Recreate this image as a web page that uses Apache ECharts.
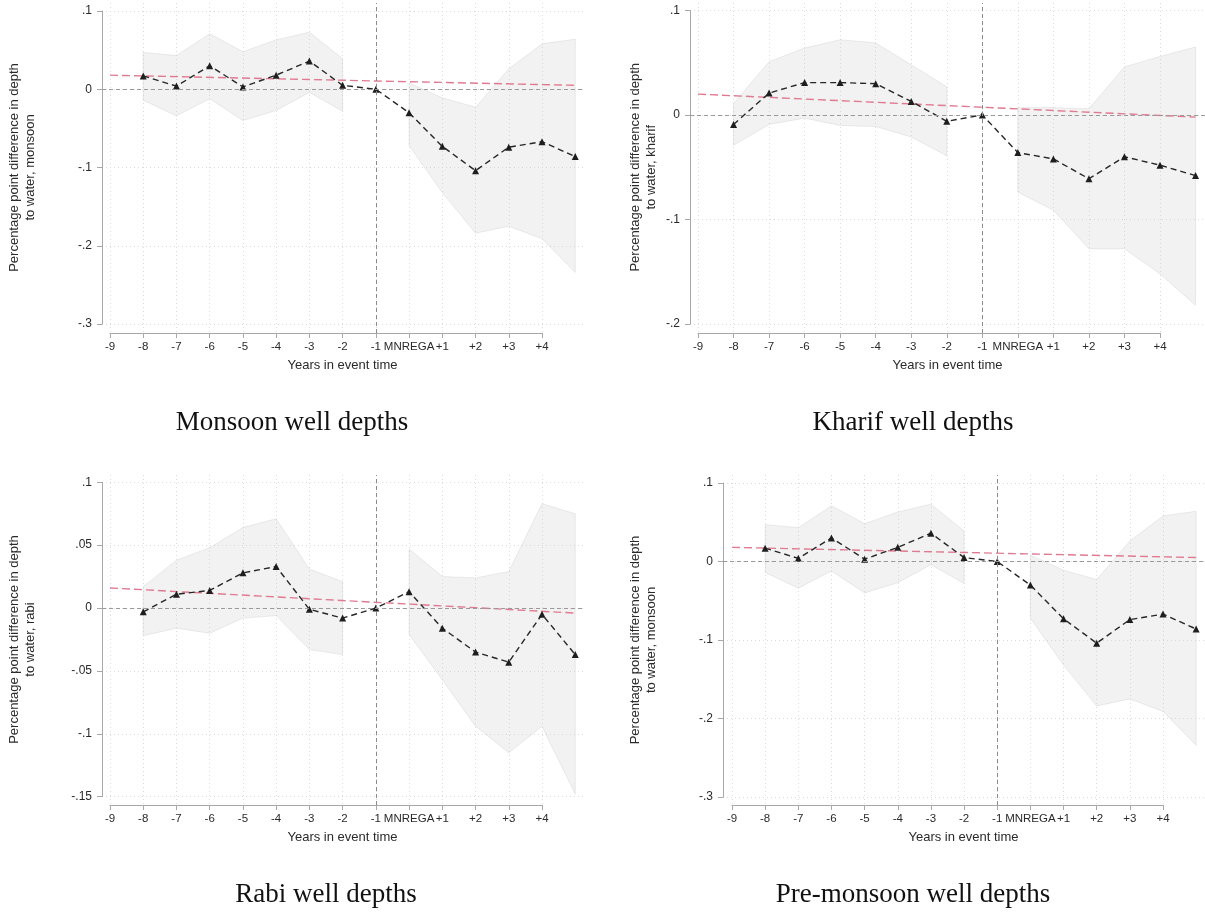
<!DOCTYPE html>
<html>
<head>
<meta charset="utf-8">
<title>Well depths around MNREGA</title>
<script src="https://cdn.jsdelivr.net/npm/echarts@6.0.0/dist/echarts.min.js"></script>
<style>
  html, body { margin: 0; padding: 0; background: #ffffff; }
  #chart { width: 1205px; height: 913px; }
</style>
</head>
<body>
<div id="chart"></div>
<script>
// ---- Event-time axis ----------------------------------------------------
const eventTime = [-8, -7, -6, -5, -4, -3, -2, -1, 0, 1, 2, 3, 4, 5];
const xTickValues = [-9, -8, -7, -6, -5, -4, -3, -2, -1, 0, 1, 2, 3, 4];
const xTickLabels = ['-9', '-8', '-7', '-6', '-5', '-4', '-3', '-2', '-1', 'MNREGA', '+1', '+2', '+3', '+4'];
const trendX = [-9, 5];

// ---- Monsoon well depths ------------------------------------------------
const monsoonCoef  = [0.017, 0.004, 0.030, 0.003, 0.018, 0.036, 0.005, 0, -0.030, -0.073, -0.104, -0.074, -0.067, -0.086];
const monsoonUpper = [0.047, 0.043, 0.071, 0.048, 0.063, 0.073, 0.039, null, 0.008, -0.011, -0.023, 0.026, 0.058, 0.064];
const monsoonLower = [-0.014, -0.034, -0.012, -0.040, -0.027, -0.004, -0.028, null, -0.072, -0.132, -0.184, -0.175, -0.191, -0.234];
const monsoonTrend = [0.018, 0.005];
const monsoonYTicks  = [0.1, 0, -0.1, -0.2, -0.3];
const monsoonYLabels = ['.1', '0', '-.1', '-.2', '-.3'];

// ---- Kharif well depths -------------------------------------------------
const kharifCoef  = [-0.009, 0.021, 0.031, 0.031, 0.030, 0.013, -0.006, 0, -0.036, -0.042, -0.061, -0.040, -0.048, -0.058];
const kharifUpper = [0.011, 0.051, 0.064, 0.072, 0.069, 0.048, 0.027, null, 0.007, 0.007, 0.006, 0.046, 0.056, 0.065];
const kharifLower = [-0.029, -0.009, -0.003, -0.010, -0.011, -0.021, -0.039, null, -0.074, -0.091, -0.128, -0.128, -0.152, -0.182];
const kharifTrend = [0.020, -0.002];
const kharifYTicks  = [0.1, 0, -0.1, -0.2];
const kharifYLabels = ['.1', '0', '-.1', '-.2'];

// ---- Rabi well depths ---------------------------------------------------
const rabiCoef  = [-0.003, 0.011, 0.014, 0.028, 0.033, -0.001, -0.008, 0, 0.013, -0.016, -0.035, -0.043, -0.005, -0.037];
const rabiUpper = [0.017, 0.038, 0.048, 0.064, 0.071, 0.031, 0.021, null, 0.047, 0.025, 0.024, 0.029, 0.083, 0.075];
const rabiLower = [-0.022, -0.016, -0.020, -0.008, -0.006, -0.033, -0.037, null, -0.021, -0.057, -0.094, -0.115, -0.094, -0.148];
const rabiTrend = [0.016, -0.004];
const rabiYTicks  = [0.1, 0.05, 0, -0.05, -0.1, -0.15];
const rabiYLabels = ['.1', '.05', '0', '-.05', '-.1', '-.15'];

// ---- Pre-monsoon well depths --------------------------------------------
const preMonsoonCoef  = [0.017, 0.004, 0.030, 0.003, 0.018, 0.036, 0.005, 0, -0.030, -0.073, -0.104, -0.074, -0.067, -0.086];
const preMonsoonUpper = [0.047, 0.043, 0.071, 0.048, 0.063, 0.073, 0.039, null, 0.008, -0.011, -0.023, 0.026, 0.058, 0.064];
const preMonsoonLower = [-0.014, -0.034, -0.012, -0.040, -0.027, -0.004, -0.028, null, -0.072, -0.132, -0.184, -0.175, -0.191, -0.234];
const preMonsoonTrend = [0.018, 0.005];
const preMonsoonYTicks  = [0.1, 0, -0.1, -0.2, -0.3];
const preMonsoonYLabels = ['.1', '0', '-.1', '-.2', '-.3'];

// ---- Panel layout (pixels) ----------------------------------------------
// x0: tick -9, x4: tick +4, xr: right edge of plot region,
// yAxisX: y axis line, top: top of plot region,
// yTop / yBot: top and bottom y ticks, axisY: x axis line,
// titleX: centre of the two-line y axis title.
const panels = [
  { coef: monsoonCoef, upper: monsoonUpper, lower: monsoonLower, trend: monsoonTrend,
    yTicks: monsoonYTicks, yLabels: monsoonYLabels, yInterval: 0.1,
    ytitle: 'Percentage point difference in depth\nto water, monsoon',
    caption: 'Monsoon well depths', capX: 292, capY: 423,
    box: { x0: 110, x4: 542, xr: 583, yAxisX: 102, top: 3, yTop: 11, yBot: 324, axisY: 333, titleX: 22 } },
  { coef: kharifCoef, upper: kharifUpper, lower: kharifLower, trend: kharifTrend,
    yTicks: kharifYTicks, yLabels: kharifYLabels, yInterval: 0.1,
    ytitle: 'Percentage point difference in depth\nto water, kharif',
    caption: 'Kharif well depths', capX: 913, capY: 423,
    box: { x0: 698, x4: 1160, xr: 1205, yAxisX: 690, top: 3, yTop: 10.5, yBot: 324, axisY: 333, titleX: 643 } },
  { coef: rabiCoef, upper: rabiUpper, lower: rabiLower, trend: rabiTrend,
    yTicks: rabiYTicks, yLabels: rabiYLabels, yInterval: 0.05,
    ytitle: 'Percentage point difference in depth\nto water, rabi',
    caption: 'Rabi well depths', capX: 326, capY: 895,
    box: { x0: 110, x4: 542, xr: 583, yAxisX: 102, top: 475, yTop: 482.3, yBot: 796.7, axisY: 805, titleX: 22 } },
  { coef: preMonsoonCoef, upper: preMonsoonUpper, lower: preMonsoonLower, trend: preMonsoonTrend,
    yTicks: preMonsoonYTicks, yLabels: preMonsoonYLabels, yInterval: 0.1,
    ytitle: 'Percentage point difference in depth\nto water, monsoon',
    caption: 'Pre-monsoon well depths', capX: 913, capY: 895,
    box: { x0: 732, x4: 1163, xr: 1204, yAxisX: 723, top: 475, yTop: 483, yBot: 797, axisY: 805, titleX: 643 } }
];

// ---- Styles -------------------------------------------------------------
const AXIS_GRAY = '#a8a8a8';
const GRID_GRAY = '#dcdcdc';
const TEXT_COLOR = '#2a2a2a';
const SANS = '"Liberation Sans", Arial, sans-serif';

const grids = [], xAxes = [], yAxes = [], series = [], graphics = [];

function labelFor(values, labels, v) {
  for (let i = 0; i < values.length; i++) {
    if (Math.abs(values[i] - v) < 1e-9) return labels[i];
  }
  return '';
}

panels.forEach((p, k) => {
  const b = p.box;
  const ppu = (b.x4 - b.x0) / 13;  // pixels per event-time year
  const yMin = Math.min.apply(null, p.yTicks);
  const yMax = Math.max.apply(null, p.yTicks);

  // Data grid: y axis, horizontal grid lines and all marks
  const gData = grids.length;
  grids.push({ left: b.yAxisX, top: b.yTop, width: b.xr - b.yAxisX, height: b.yBot - b.yTop, containLabel: false });
  xAxes.push({
    gridIndex: gData, type: 'value',
    min: -9 - (b.x0 - b.yAxisX) / ppu, max: -9 + (b.xr - b.x0) / ppu,
    axisLine: { show: false, onZero: false }, axisTick: { show: false }, axisLabel: { show: false }, splitLine: { show: false },
    name: 'Years in event time', nameLocation: 'middle', nameGap: b.axisY - b.yBot + 26,
    nameTextStyle: { fontFamily: SANS, fontSize: 13, color: TEXT_COLOR }
  });
  yAxes.push({
    gridIndex: gData, type: 'value', min: yMin, max: yMax, interval: p.yInterval, position: 'left',
    axisLine: { show: true, onZero: false, lineStyle: { color: AXIS_GRAY, width: 1 } },
    axisTick: { show: true, length: 5, lineStyle: { color: AXIS_GRAY } },
    axisLabel: { margin: 10, fontFamily: SANS, fontSize: 12, color: TEXT_COLOR,
      formatter: v => labelFor(p.yTicks, p.yLabels, v) },
    splitLine: { show: true, lineStyle: { color: GRID_GRAY, type: [1, 3], width: 1 } },
    name: p.ytitle, nameLocation: 'middle', nameRotate: 90, nameGap: b.yAxisX - b.titleX - 16,
    nameTextStyle: { fontFamily: SANS, fontSize: 13, lineHeight: 16, color: TEXT_COLOR, align: 'center' }
  });

  // Event-time grid: x axis, vertical grid lines, treatment marker
  const gX = grids.length;
  grids.push({ left: b.x0, top: b.top, width: b.x4 - b.x0, height: b.axisY - b.top, containLabel: false });
  xAxes.push({
    gridIndex: gX, type: 'value', min: -9, max: 4, interval: 1, position: 'bottom',
    axisLine: { show: true, onZero: false, lineStyle: { color: AXIS_GRAY, width: 1 } },
    axisTick: { show: true, length: 5, lineStyle: { color: AXIS_GRAY } },
    axisLabel: { margin: 8, fontFamily: SANS, fontSize: 11.5, color: TEXT_COLOR,
      formatter: v => labelFor(xTickValues, xTickLabels, v) },
    splitLine: { show: true, lineStyle: { color: GRID_GRAY, type: [1, 3], width: 1 } }
  });
  yAxes.push({ gridIndex: gX, type: 'value', min: 0, max: 1, show: false, splitLine: { show: false } });

  const xiData = xAxes.length - 2, yiData = yAxes.length - 2;
  const xiX = xAxes.length - 1, yiX = yAxes.length - 1;

  // Vertical dashed line at t = -1
  series.push({
    type: 'line', xAxisIndex: xiX, yAxisIndex: yiX, data: [], silent: true, z: 2,
    markLine: { silent: true, symbol: 'none', animation: false, label: { show: false },
      lineStyle: { color: '#8a8a8a', type: [4, 3], width: 1 },
      data: [{ xAxis: -1 }] }
  });

  // Confidence band, split where the reference year has no interval
  const segs = []; let cur = [];
  eventTime.forEach((x, i) => {
    if (p.upper[i] == null || p.lower[i] == null) { if (cur.length) segs.push(cur); cur = []; }
    else cur.push(i);
  });
  if (cur.length) segs.push(cur);
  series.push({
    type: 'custom', xAxisIndex: xiData, yAxisIndex: yiData, silent: true, z: 1, animation: false,
    data: segs.map(s => [eventTime[s[0]], p.upper[s[0]]]),
    renderItem: (params, api) => {
      const s = segs[params.dataIndex];
      const top = s.map(i => api.coord([eventTime[i], p.upper[i]]));
      const bot = s.slice().reverse().map(i => api.coord([eventTime[i], p.lower[i]]));
      return { type: 'polygon', shape: { points: top.concat(bot) },
        style: { fill: 'rgba(190,190,190,0.2)', stroke: 'rgba(200,200,200,0.35)', lineWidth: 1 } };
    }
  });

  // Linear pre-trend (red dashed)
  series.push({
    type: 'line', xAxisIndex: xiData, yAxisIndex: yiData, silent: true, z: 3, animation: false,
    data: trendX.map((x, i) => [x, p.trend[i]]),
    symbol: 'none', lineStyle: { color: '#e07a90', width: 1.4, type: [8, 4] }
  });

  // Point estimates with zero reference line
  series.push({
    type: 'line', xAxisIndex: xiData, yAxisIndex: yiData, silent: true, z: 4, animation: false,
    data: eventTime.map((x, i) => [x, p.coef[i]]),
    symbol: 'triangle', symbolSize: 7,
    itemStyle: { color: '#1e1e1e' },
    lineStyle: { color: '#262626', width: 1.4, type: [6, 4] },
    markLine: { silent: true, symbol: 'none', animation: false, label: { show: false },
      lineStyle: { color: '#9a9a9a', type: [4, 3], width: 1.2 },
      data: [{ yAxis: 0 }] }
  });

  graphics.push({
    type: 'text', x: p.capX, y: p.capY, silent: true,
    style: { text: p.caption, fill: '#111', font: '27px "Liberation Serif", "DejaVu Serif", serif',
      textAlign: 'center', textVerticalAlign: 'middle' }
  });
});

const chart = echarts.init(document.getElementById('chart'), null, { renderer: 'canvas' });
chart.setOption({
  backgroundColor: '#ffffff',
  animation: false,
  grid: grids,
  xAxis: xAxes,
  yAxis: yAxes,
  series: series,
  graphic: graphics
});
</script>
</body>
</html>
